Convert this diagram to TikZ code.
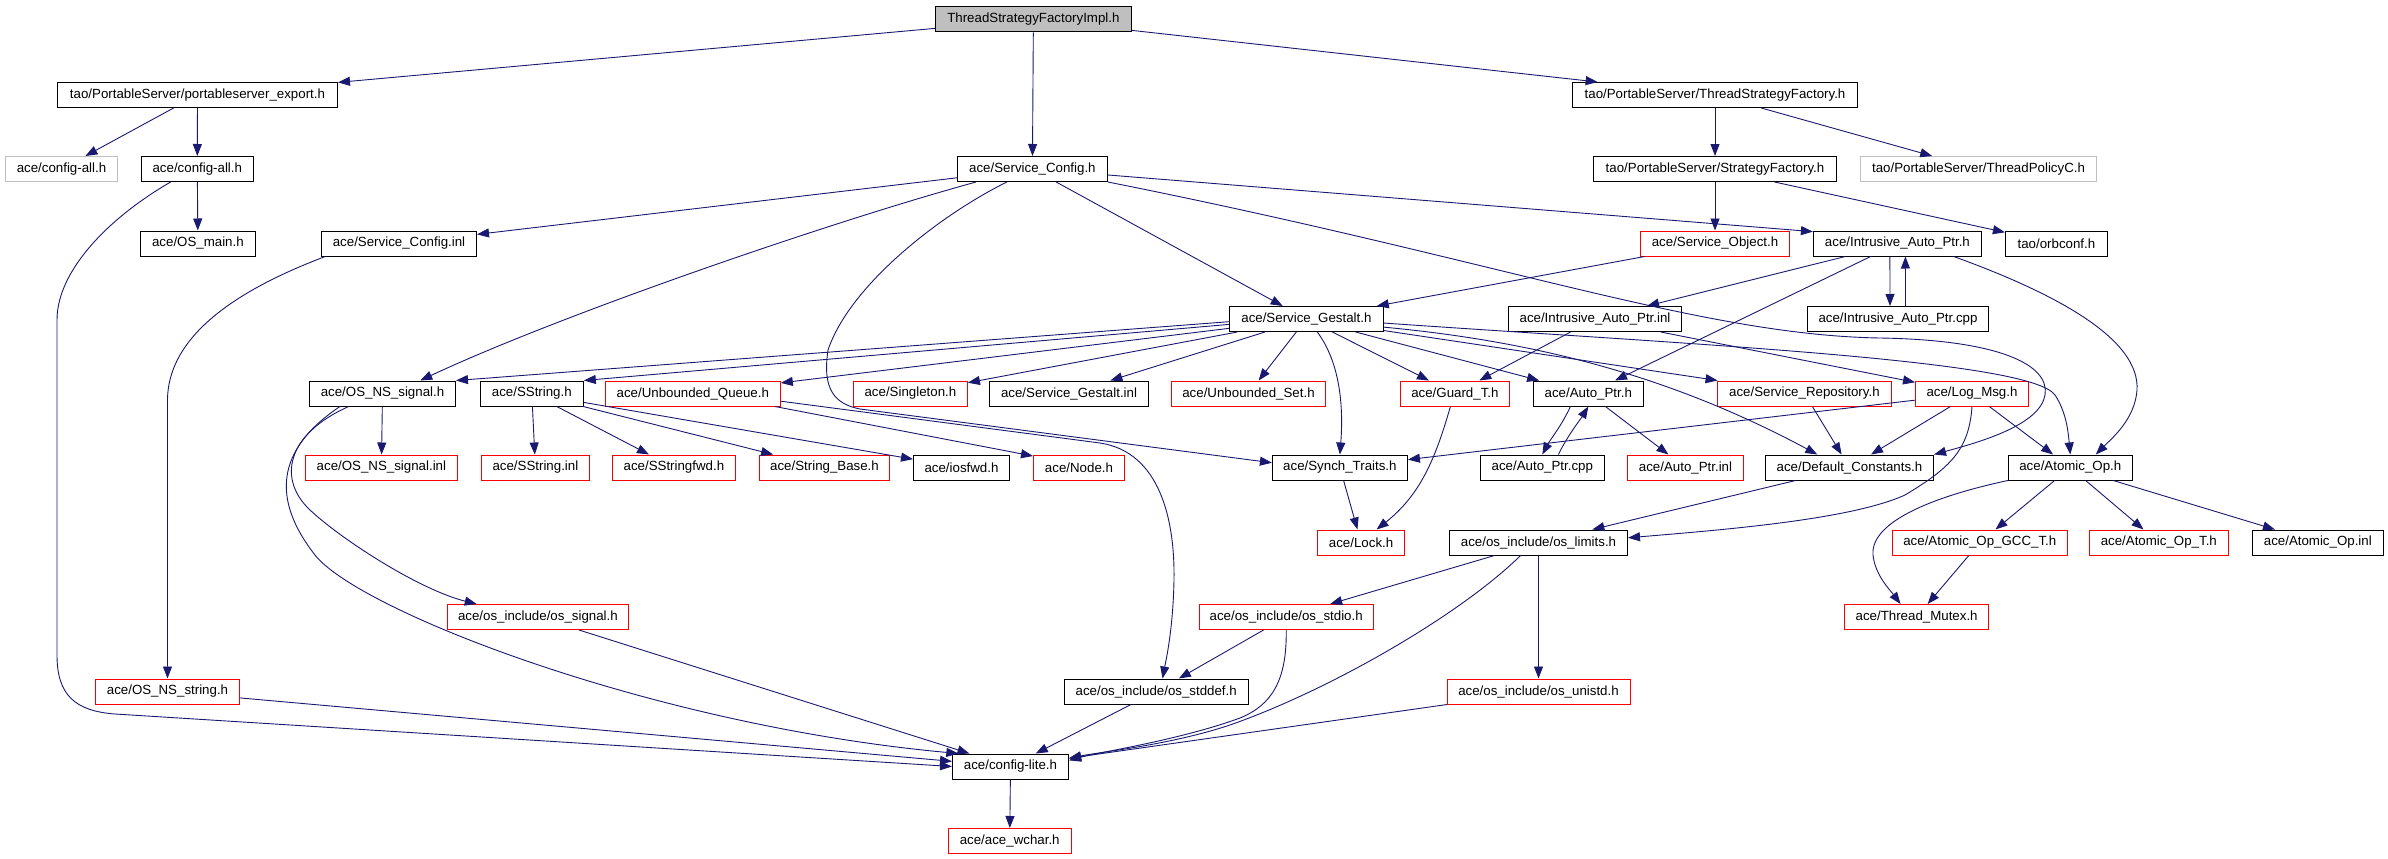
\documentclass[tikz,border=0pt]{standalone}
\usepackage{fontspec}
\setmainfont{Liberation Sans}
\usetikzlibrary{arrows.meta}
\definecolor{edgec}{RGB}{25,25,112}
\definecolor{grayc}{RGB}{191,191,191}
\begin{document}
\begin{tikzpicture}[x=1pt,y=-1pt,
  box/.style={draw=black,line width=1pt,inner sep=0pt,minimum height=25pt,font=\fontsize{13.3}{16}\selectfont},
  redbox/.style={box,draw=red},
  graybox/.style={box,draw=grayc},
  rootbox/.style={box,fill=grayc},
  edge/.style={draw=edgec,line width=0.9pt,-{Triangle[length=12pt,width=9pt]}}
]
\useasboundingbox (0,0) rectangle (2388,859);
% row 0-1
\node[rootbox,minimum width=196] (root) at (1033.4,19.5) {ThreadStrategyFactoryImpl.h};
\node[box,minimum width=280] (pse) at (197.5,95) {tao/PortableServer/portableserver\_export.h};
\node[box,minimum width=285] (tsf) at (1715,95) {tao/PortableServer/ThreadStrategyFactory.h};
% row 2
\node[graybox,minimum width=112] (cag) at (61.5,169) {ace/config-all.h};
\node[box,minimum width=112] (ca) at (197.3,169) {ace/config-all.h};
\node[box,minimum width=150] (sc) at (1032.4,169) {ace/Service\_Config.h};
\node[box,minimum width=243] (sf) at (1715,169) {tao/PortableServer/StrategyFactory.h};
\node[graybox,minimum width=236] (tpc) at (1978.5,169) {tao/PortableServer/ThreadPolicyC.h};
% row 3
\node[box,minimum width=115] (om) at (197.9,243.5) {ace/OS\_main.h};
\node[box,minimum width=155] (sci) at (399,243.5) {ace/Service\_Config.inl};
\node[redbox,minimum width=149] (so) at (1715,243.5) {ace/Service\_Object.h};
\node[box,minimum width=168] (iap) at (1897.4,243.5) {ace/Intrusive\_Auto\_Ptr.h};
\node[box,minimum width=102] (orb) at (2056.4,243.5) {tao/orbconf.h};
% row 4
\node[box,minimum width=154] (sg) at (1306.4,319) {ace/Service\_Gestalt.h};
\node[box,minimum width=173] (iapi) at (1595,319) {ace/Intrusive\_Auto\_Ptr.inl};
\node[box,minimum width=181] (iapc) at (1898,319) {ace/Intrusive\_Auto\_Ptr.cpp};
% row 5
\node[box,minimum width=146] (nss) at (382.5,393.5) {ace/OS\_NS\_signal.h};
\node[box,minimum width=103] (ss) at (531.8,393.5) {ace/SString.h};
\node[redbox,minimum width=175] (uq) at (692.8,393.5) {ace/Unbounded\_Queue.h};
\node[redbox,minimum width=114] (sing) at (910.4,393.5) {ace/Singleton.h};
\node[box,minimum width=159] (sgi) at (1069,393.5) {ace/Service\_Gestalt.inl};
\node[redbox,minimum width=154] (us) at (1248.5,393.5) {ace/Unbounded\_Set.h};
\node[redbox,minimum width=109] (guard) at (1454.9,393.5) {ace/Guard\_T.h};
\node[box,minimum width=110] (ap) at (1588.3,393.5) {ace/Auto\_Ptr.h};
\node[redbox,minimum width=174] (srep) at (1804.4,393.5) {ace/Service\_Repository.h};
\node[redbox,minimum width=113] (log) at (1972,393.5) {ace/Log\_Msg.h};
% row 6
\node[redbox,minimum width=152] (nssi) at (381.4,467.5) {ace/OS\_NS\_signal.inl};
\node[redbox,minimum width=108] (ssi) at (535.4,467.5) {ace/SString.inl};
\node[redbox,minimum width=123] (ssf) at (673.9,467.5) {ace/SStringfwd.h};
\node[redbox,minimum width=130] (sb) at (824.5,467.5) {ace/String\_Base.h};
\node[box,minimum width=96] (iosfwd) at (961.5,467.5) {ace/iosfwd.h};
\node[redbox,minimum width=91] (nd) at (1079,467.5) {ace/Node.h};
\node[box,minimum width=135] (st) at (1339.9,467.5) {ace/Synch\_Traits.h};
\node[box,minimum width=124] (apc) at (1542.3,467.5) {ace/Auto\_Ptr.cpp};
\node[redbox,minimum width=116] (api) at (1685.5,467.5) {ace/Auto\_Ptr.inl};
\node[box,minimum width=168] (dc) at (1849.5,467.5) {ace/Default\_Constants.h};
\node[box,minimum width=124] (ao) at (2070.3,467.5) {ace/Atomic\_Op.h};
% row 7
\node[redbox,minimum width=87] (lock) at (1361.1,542.5) {ace/Lock.h};
\node[box,minimum width=178] (osl) at (1538.5,542.5) {ace/os\_include/os\_limits.h};
\node[redbox,minimum width=175] (aogcc) at (1979.8,542.5) {ace/Atomic\_Op\_GCC\_T.h};
\node[redbox,minimum width=139] (aot) at (2158.8,542.5) {ace/Atomic\_Op\_T.h};
\node[box,minimum width=131] (aoi) at (2317.8,542.5) {ace/Atomic\_Op.inl};
% row 8
\node[redbox,minimum width=181] (ossig) at (537.9,617) {ace/os\_include/os\_signal.h};
\node[redbox,minimum width=174] (osstdio) at (1286.2,617) {ace/os\_include/os\_stdio.h};
\node[redbox,minimum width=144] (tm) at (1916.6,617) {ace/Thread\_Mutex.h};
% row 9
\node[redbox,minimum width=144] (nsstr) at (167.5,691.5) {ace/OS\_NS\_string.h};
\node[box,minimum width=184] (osstddef) at (1156.2,691.5) {ace/os\_include/os\_stddef.h};
\node[redbox,minimum width=183] (osu) at (1538.5,691.5) {ace/os\_include/os\_unistd.h};
% row 10-11
\node[box,minimum width=116] (cl) at (1010.5,766.5) {ace/config-lite.h};
\node[redbox,minimum width=123] (wchar) at (1009.7,841) {ace/ace\_wchar.h};

% edges
\draw[edge] (root) -- (pse);
\draw[edge] (root) -- (sc);
\draw[edge] (root) -- (tsf);
\draw[edge] (pse) -- (cag);
\draw[edge] (pse) -- (ca);
\draw[edge] (ca) -- (om);
\draw[edge] (ca.206) .. controls (110,217) and (57,270) .. (57,320) -- (57,655) .. controls (57,695) and (75,711) .. (115,714) -- (cl.west);
\draw[edge] (sc) -- (sci);
\draw[edge] (sc.193) .. controls (830,222) and (560,315) .. (nss.19);
\draw[edge] (sc.207) .. controls (940,215) and (850,285) .. (828,350) .. controls (822,390) and (835,404) .. (860,409) -- (st.176);
\draw[edge] (sc) -- (sg);
\draw[edge] (sc) -- (iap.172);
\draw[edge] (sc.south east) .. controls (1500,260) and (1700,335) .. (1880,338) .. controls (2000,340) and (2050,365) .. (2045,395) .. controls (2040,425) and (1980,442) .. (dc.north east);
\draw[edge] (tsf) -- (sf);
\draw[edge] (tsf) -- (tpc);
\draw[edge] (sf) -- (so);
\draw[edge] (sf) -- (orb);
\draw[edge] (so) -- (sg);
\draw[edge] (iap) -- (iapi);
\draw[edge] (iap) -- (ap);
\draw[edge] ([xshift=-7.5pt]iap.south) -- ([xshift=-8pt]iapc.north);
\draw[edge] ([xshift=7.5pt]iapc.north) -- ([xshift=8pt]iap.south);
\draw[edge] (iap.-13) .. controls (2060,295) and (2140,340) .. (2137,390) .. controls (2135,420) and (2110,440) .. (ao.27);
\draw[edge] (iapi) -- (guard);
\draw[edge] (iapi) -- (log);
\draw[edge] (log) -- (st);
\draw[edge] (log) -- (dc);
\draw[edge] (log) -- (ao);
\draw[edge] (log.south) .. controls (1969,450) and (1950,468) .. (1905,495) .. controls (1850,520) and (1720,530) .. (osl.3);
\draw[edge] (dc) -- (osl);
\draw[edge] (srep) -- (dc);
\draw[edge] (sg.-6) .. controls (1520,340) and (1660,370) .. (dc.158);
\draw[edge] (sg) -- (srep);
\draw[edge] (sg.-3) .. controls (1700,345) and (2030,360) .. (2055,395) .. controls (2066,412) and (2068,430) .. (ao.north);
\draw[edge] (sg) -- (guard);
\draw[edge] (sg) -- (ap);
\draw[edge] (sg) -- (us);
\draw[edge] (sg.-50) .. controls (1338,360) and (1344,400) .. (st.north);
\draw[edge] (sg) -- (sgi);
\draw[edge] (sg) -- (sing);
\draw[edge] (sg) -- (uq);
\draw[edge] (sg.182) -- (nss.north east);
\draw[edge] (sg.184) -- (ss.north east);
\draw[edge] (ss) -- (ssi);
\draw[edge] (ss) -- (ssf);
\draw[edge] (ss) -- (sb);
\draw[edge] (ss) -- (iosfwd);
\draw[edge] (uq.-9) -- (nd.166);
\draw[edge] (uq.-5) -- (1100,443) .. controls (1160,452) and (1175,520) .. (1174,580) .. controls (1173,630) and (1166,660) .. (osstddef.64);
\draw[edge] (nss) -- (nssi);
\draw[edge] (nss.201) .. controls (285,435) and (278,480) .. (310,510) .. controls (342,540) and (420,590) .. (ossig.168);
\draw[edge] (nss.197) .. controls (275,450) and (272,500) .. (315,555) .. controls (358,610) and (650,725) .. (cl.166);
\draw[edge] (ossig) -- (cl);
\draw[edge] (nsstr) -- (cl);
\draw[edge] (sci.190) .. controls (250,285) and (168,330) .. (167.5,400) -- (nsstr.north);
\draw[edge] (osl) -- (osstdio);
\draw[edge] (osl.216) .. controls (1460,615) and (1330,690) .. (1230,725) .. controls (1170,745) and (1100,752) .. (cl.8);
\draw[edge] (osl) -- (osu);
\draw[edge] (osstdio) -- (osstddef);
\draw[edge] (osstdio.south) .. controls (1287,680) and (1272,705) .. (1240,718) .. controls (1180,740) and (1100,752) .. (cl.6);
\draw[edge] (osu) -- (cl);
\draw[edge] (osstddef) -- (cl);
\draw[edge] (cl) -- (wchar);
\draw[edge] (st) -- (lock);
\draw[edge] (guard.251) .. controls (1435,460) and (1420,495) .. (lock.40);
\draw[edge] (ap.216) .. controls (1562,425) and (1550,440) .. (apc.north);
\draw[edge] (apc.39) .. controls (1568,435) and (1580,420) .. (ap.south);
\draw[edge] (ap) -- (api);
\draw[edge] (ao) -- (aogcc);
\draw[edge] (ao) -- (aot);
\draw[edge] (ao) -- (aoi);
\draw[edge] (ao.south west) .. controls (1940,495) and (1870,520) .. (1873,555) .. controls (1875,575) and (1890,590) .. (tm.141);
\draw[edge] (aogcc) -- (tm);
\end{tikzpicture}
\end{document}
